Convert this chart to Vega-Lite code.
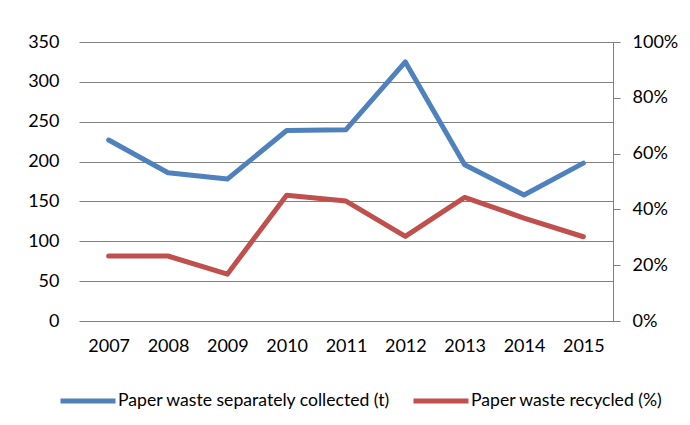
{
  "$schema": "https://vega.github.io/schema/vega-lite/v6.json",
  "width": 534,
  "height": 279,
  "autosize": {"type": "none"},
  "padding": {"left": 79, "top": 42, "right": 77, "bottom": 104},
  "background": "#ffffff",
  "config": {
    "view": {"stroke": null},
    "font": "Lato",
    "axis": {"labelFont": "Lato", "labelFontSize": 18, "labelColor": "#000000", "titleFont": "Lato"},
    "legend": {"labelFont": "Lato", "labelFontSize": 17.6, "labelColor": "#000000"}
  },
  "data": {
    "values": [
      {"year": "2007", "series": "Paper waste separately collected (t)", "value": 227},
      {"year": "2008", "series": "Paper waste separately collected (t)", "value": 186},
      {"year": "2009", "series": "Paper waste separately collected (t)", "value": 178},
      {"year": "2010", "series": "Paper waste separately collected (t)", "value": 239},
      {"year": "2011", "series": "Paper waste separately collected (t)", "value": 240},
      {"year": "2012", "series": "Paper waste separately collected (t)", "value": 325},
      {"year": "2013", "series": "Paper waste separately collected (t)", "value": 196},
      {"year": "2014", "series": "Paper waste separately collected (t)", "value": 158},
      {"year": "2015", "series": "Paper waste separately collected (t)", "value": 198},
      {"year": "2007", "series": "Paper waste recycled (%)", "value": 0.233},
      {"year": "2008", "series": "Paper waste recycled (%)", "value": 0.233},
      {"year": "2009", "series": "Paper waste recycled (%)", "value": 0.168},
      {"year": "2010", "series": "Paper waste recycled (%)", "value": 0.451},
      {"year": "2011", "series": "Paper waste recycled (%)", "value": 0.43},
      {"year": "2012", "series": "Paper waste recycled (%)", "value": 0.303},
      {"year": "2013", "series": "Paper waste recycled (%)", "value": 0.443},
      {"year": "2014", "series": "Paper waste recycled (%)", "value": 0.369},
      {"year": "2015", "series": "Paper waste recycled (%)", "value": 0.302}
    ]
  },
  "encoding": {
    "x": {
      "field": "year",
      "type": "ordinal",
      "scale": {"type": "point", "padding": 0.5},
      "axis": {"title": null, "labelAngle": 0, "domain": false, "ticks": false, "labelPadding": 16}
    },
    "color": {
      "field": "series",
      "type": "nominal",
      "scale": {
        "domain": ["Paper waste separately collected (t)", "Paper waste recycled (%)"],
        "range": ["#4F81BD", "#C0504D"]
      },
      "legend": {
        "title": null,
        "orient": "none",
        "direction": "horizontal",
        "legendX": -21,
        "legendY": 329,
        "symbolType": "stroke",
        "symbolSize": 3025,
        "symbolStrokeWidth": 5,
        "labelOffset": 0,
        "columnPadding": 12,
        "labelLimit": 400
      }
    }
  },
  "layer": [
    {
      "transform": [{"filter": "datum.series === 'Paper waste separately collected (t)'"}],
      "mark": {"type": "line", "strokeWidth": 5, "strokeJoin": "round", "strokeCap": "round"},
      "encoding": {
        "y": {
          "field": "value",
          "type": "quantitative",
          "scale": {"domain": [0, 350], "nice": false},
          "axis": {
            "title": null,
            "orient": "left",
            "values": [0, 50, 100, 150, 200, 250, 300, 350],
            "domain": false,
            "ticks": false,
            "grid": true,
            "gridColor": "#808080",
            "gridWidth": 1,
            "gridOpacity": 1,
            "labelPadding": 20
          }
        }
      }
    },
    {
      "transform": [{"filter": "datum.series === 'Paper waste recycled (%)'"}],
      "mark": {"type": "line", "strokeWidth": 5, "strokeJoin": "round", "strokeCap": "round"},
      "encoding": {
        "y": {
          "field": "value",
          "type": "quantitative",
          "scale": {"domain": [0, 1], "nice": false},
          "axis": {
            "title": null,
            "orient": "right",
            "values": [0, 0.2, 0.4, 0.6, 0.8, 1],
            "format": ".0%",
            "grid": false,
            "domain": true,
            "domainColor": "#808080",
            "domainWidth": 1,
            "ticks": true,
            "tickColor": "#808080",
            "tickSize": 7,
            "labelPadding": 12
          }
        }
      }
    }
  ],
  "resolve": {"scale": {"y": "independent"}}
}
